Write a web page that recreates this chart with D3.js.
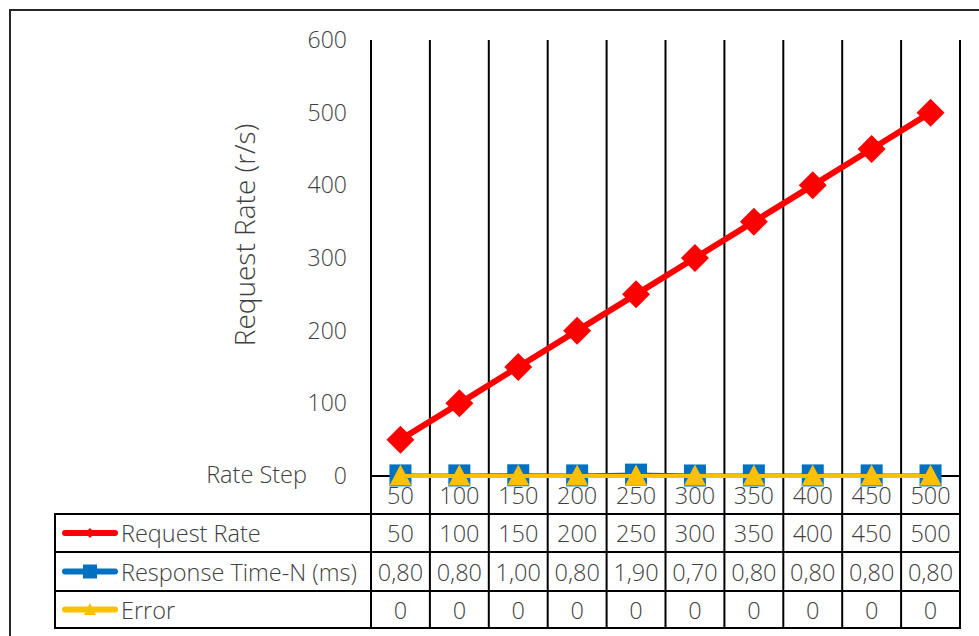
<!DOCTYPE html>
<html>
<head>
<meta charset="utf-8">
<script src="https://cdn.jsdelivr.net/npm/d3@7"></script>
<style>
  html, body { margin: 0; padding: 0; background: #fff; }
  svg { display: block; }
  text { font-family: "Open Sans", "Noto Sans", sans-serif; font-weight: 300; fill: #404040; }
</style>
</head>
<body>
<svg id="chart" width="979" height="636"></svg>
<script>
// Rate steps on the category axis
const categories = ["50", "100", "150", "200", "250", "300", "350", "400", "450", "500"];
// Series values
const requestRate = [50, 100, 150, 200, 250, 300, 350, 400, 450, 500];
const responseTime = [0.80, 0.80, 1.00, 0.80, 1.90, 0.70, 0.80, 0.80, 0.80, 0.80];
const errors = [0, 0, 0, 0, 0, 0, 0, 0, 0, 0];
// Value axis ticks
const yTicks = [0, 100, 200, 300, 400, 500, 600];

const seriesNames = ["Request Rate", "Response Time-N (ms)", "Error"];
const seriesColors = ["#FF0000", "#0070C0", "#FFC000"];
const fmtComma = v => v.toFixed(2).replace(".", ",");

const svg = d3.select("#chart");

const plot = { left: 371, right: 960, top: 40, bottom: 476 };
const table = { left: 55, rows: [476, 514, 552, 591, 628] };
const fs = 23.5;

const x = d3.scaleBand().domain(categories).range([plot.left, plot.right]).padding(0);
const y = d3.scaleLinear().domain([0, 600]).range([plot.bottom, plot.top]);
const cx = c => x(c) + x.bandwidth() / 2;

// Outer chart frame
svg.append("rect")
  .attr("x", 10).attr("y", 10).attr("width", 1000).attr("height", 700)
  .attr("fill", "none").attr("stroke", "#262626").attr("stroke-width", 2);

// Vertical gridlines running down through the data table
const edges = categories.map(c => x(c)).concat([plot.right]);
svg.append("g").selectAll("line").data(edges).join("line")
  .attr("x1", d => d).attr("x2", d => d)
  .attr("y1", plot.top).attr("y2", table.rows[4])
  .attr("stroke", "#000").attr("stroke-width", 2);

// Category axis line and table row lines
svg.append("line")
  .attr("x1", plot.left).attr("x2", plot.right)
  .attr("y1", plot.bottom).attr("y2", plot.bottom)
  .attr("stroke", "#000").attr("stroke-width", 2);
svg.append("g").selectAll("line").data(table.rows.slice(1)).join("line")
  .attr("x1", table.left - 1).attr("x2", plot.right + 1)
  .attr("y1", d => d).attr("y2", d => d)
  .attr("stroke", "#000").attr("stroke-width", 2);
svg.append("line")
  .attr("x1", table.left).attr("x2", table.left)
  .attr("y1", table.rows[1]).attr("y2", table.rows[4])
  .attr("stroke", "#000").attr("stroke-width", 2);

// Value axis labels
const yAxis = d3.axisLeft(y).tickValues(yTicks).tickSize(0).tickPadding(0).tickFormat(d3.format("d"));
const yg = svg.append("g").attr("transform", `translate(${347},0)`).call(yAxis);
yg.select(".domain").remove();
yg.selectAll("text").attr("font-size", 23).attr("fill", "#404040")
  .style("font-family", "'Open Sans', sans-serif").style("font-weight", 300);

// Value axis title
svg.append("text")
  .attr("transform", `translate(244,${235}) rotate(-90)`)
  .attr("text-anchor", "middle").attr("dominant-baseline", "central")
  .attr("font-size", 28).text("Request Rate (r/s)");

// Category axis title and labels (first table row)
svg.append("text")
  .attr("x", 307).attr("y", 474).attr("text-anchor", "end").attr("dominant-baseline", "central")
  .attr("font-size", fs).text("Rate Step");
svg.append("g").selectAll("text").data(categories).join("text")
  .attr("x", cx).attr("y", (table.rows[0] + table.rows[1]) / 2)
  .attr("text-anchor", "middle").attr("dominant-baseline", "central")
  .attr("font-size", fs).text(d => d);

// Lines
const line = d3.line().x((d, i) => cx(categories[i])).y(d => y(d));
svg.append("path").datum(responseTime).attr("d", line)
  .attr("fill", "none").attr("stroke", seriesColors[1]).attr("stroke-width", 4);
svg.append("path").datum(requestRate).attr("d", line)
  .attr("fill", "none").attr("stroke", seriesColors[0]).attr("stroke-width", 6).attr("stroke-linejoin", "round");

// Markers
const diamond = s => `M0,${-s}L${s},0L0,${s}L${-s},0Z`;
const triangle = (w, h) => `M0,${-h * 0.55}L${w / 2},${h * 0.45}L${-w / 2},${h * 0.45}Z`;

svg.append("g").selectAll("rect").data(responseTime).join("rect")
  .attr("x", (d, i) => cx(categories[i]) - 11).attr("y", d => y(d) - 11)
  .attr("width", 22).attr("height", 22).attr("fill", seriesColors[1]);

svg.append("path").datum(errors).attr("d", line)
  .attr("fill", "none").attr("stroke", seriesColors[2]).attr("stroke-width", 4);
svg.append("g").selectAll("path").data(errors).join("path")
  .attr("transform", (d, i) => `translate(${cx(categories[i])},${y(d)})`)
  .attr("d", triangle(22, 21)).attr("fill", seriesColors[2]);

svg.append("g").selectAll("path").data(requestRate).join("path")
  .attr("transform", (d, i) => `translate(${cx(categories[i])},${y(d)})`)
  .attr("d", diamond(14)).attr("fill", seriesColors[0]);

// Data table rows
const rowValues = [requestRate.map(v => String(v)), responseTime.map(fmtComma), errors.map(v => String(v))];
rowValues.forEach((vals, r) => {
  const top = table.rows[r + 1], bot = table.rows[r + 2];
  const my = (top + bot) / 2;
  // legend key
  const key = svg.append("g");
  key.append("line").attr("x1", 65).attr("x2", 115).attr("y1", my).attr("y2", my)
    .attr("stroke", seriesColors[r]).attr("stroke-width", 6).attr("stroke-linecap", "round");
  if (r === 0) key.append("path").attr("transform", `translate(90,${my})`).attr("d", diamond(5)).attr("fill", seriesColors[r]);
  if (r === 1) key.append("rect").attr("x", 83).attr("y", my - 7).attr("width", 14).attr("height", 14).attr("fill", seriesColors[r]);
  if (r === 2) key.append("path").attr("transform", `translate(90,${my})`).attr("d", triangle(12, 12)).attr("fill", seriesColors[r]);
  svg.append("text").attr("x", 121).attr("y", my).attr("dominant-baseline", "central")
    .attr("font-size", fs).text(seriesNames[r]);
  svg.append("g").selectAll("text").data(vals).join("text")
    .attr("x", (d, i) => cx(categories[i])).attr("y", my)
    .attr("text-anchor", "middle").attr("dominant-baseline", "central")
    .attr("font-size", fs).text(d => d);
});
</script>
</body>
</html>
